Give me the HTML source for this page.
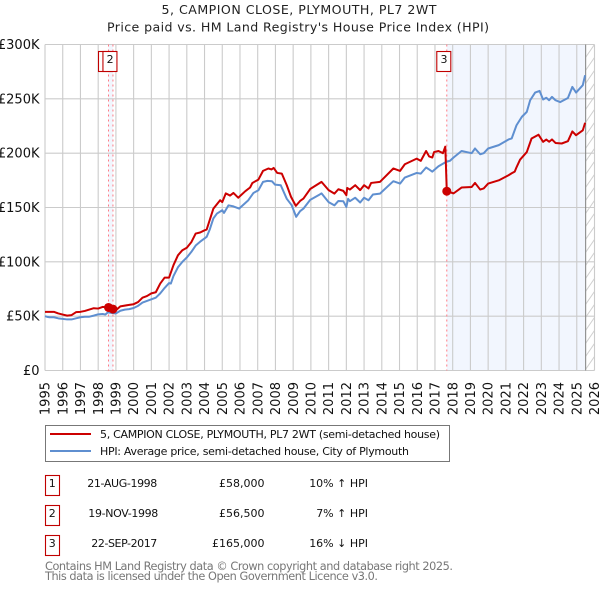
<!DOCTYPE html>
<html lang="en">
<head>
<meta charset="utf-8">
<title>5, CAMPION CLOSE, PLYMOUTH, PL7 2WT</title>
<style>
html,body{margin:0;padding:0;background:#fff;width:600px;height:590px;overflow:hidden}
svg{display:block}
text{font-family:"DejaVu Sans","Liberation Sans",sans-serif}
</style>
</head>
<body>
<svg id="chart" xmlns="http://www.w3.org/2000/svg" width="600" height="590" viewBox="0 0 600 590">
  <defs>
    <pattern id="hatch" width="9" height="13" patternUnits="userSpaceOnUse" x="585.5" y="44.5">
      <path d="M0 13 L9 0" stroke="#cfcfcf" stroke-width="1" fill="none"/>
    </pattern>
  </defs>
  <text x="299" y="14" font-size="12.6" text-anchor="middle" fill="#222" textLength="275">5, CAMPION CLOSE, PLYMOUTH, PL7 2WT</text>
  <text x="298" y="31.5" font-size="12.6" text-anchor="middle" fill="#222" textLength="382">Price paid vs. HM Land Registry's House Price Index (HPI)</text>
  <g id="shading"></g>
  <g id="grid"></g>
  <g id="sale-lines"></g>
  <g id="sale-boxes"></g>
  <g id="series"></g>
  <g id="y-labels"></g>
  <g id="x-labels"></g>

  <g>
    <rect x="45.5" y="425.5" width="404" height="36" fill="#fff" stroke="#777" stroke-width="1"/>
    <line x1="50" y1="434" x2="91" y2="434" stroke="#cc0000" stroke-width="2"/>
    <text x="100" y="438" font-size="11" fill="#111" textLength="340">5, CAMPION CLOSE, PLYMOUTH, PL7 2WT (semi-detached house)</text>
    <line x1="50" y1="451" x2="91" y2="451" stroke="#5f8fd0" stroke-width="2"/>
    <text x="100" y="455" font-size="11" fill="#111" textLength="309">HPI: Average price, semi-detached house, City of Plymouth</text>
  </g>

  <g font-size="11" fill="#111">
    <g>
      <rect x="45.5" y="475.5" width="14" height="20" fill="#fff" stroke="#c00000" stroke-width="1.1"/>
      <text x="52.3" y="487" text-anchor="middle">1</text>
      <text x="87.3" y="487" textLength="70">21-AUG-1998</text>
      <text x="264.5" y="487" text-anchor="end">£58,000</text>
      <text x="368" y="487" text-anchor="end">10% ↑ HPI</text>
    </g>
    <g>
      <rect x="45.5" y="505.5" width="14" height="20" fill="#fff" stroke="#c00000" stroke-width="1.1"/>
      <text x="52.3" y="517" text-anchor="middle">2</text>
      <text x="88.3" y="517" textLength="70">19-NOV-1998</text>
      <text x="264.5" y="517" text-anchor="end">£56,500</text>
      <text x="368" y="517" text-anchor="end">7% ↑ HPI</text>
    </g>
    <g>
      <rect x="45.5" y="535.5" width="14" height="20" fill="#fff" stroke="#c00000" stroke-width="1.1"/>
      <text x="52.3" y="547" text-anchor="middle">3</text>
      <text x="91.3" y="547" textLength="66">22-SEP-2017</text>
      <text x="264.5" y="547" text-anchor="end">£165,000</text>
      <text x="368" y="547" text-anchor="end">16% ↓ HPI</text>
    </g>
  </g>

  <text x="45" y="570" font-size="11.3" fill="#777" textLength="408">Contains HM Land Registry data © Crown copyright and database right 2025.</text>
  <text x="45" y="580" font-size="11.3" fill="#777" textLength="333">This data is licensed under the Open Government Licence v3.0.</text>
</svg>

<script>
var yearTicks = [1995,1996,1997,1998,1999,2000,2001,2002,2003,2004,2005,2006,2007,2008,2009,2010,2011,2012,2013,2014,2015,2016,2017,2018,2019,2020,2021,2022,2023,2024,2025,2026];
var valueTicks = [0,50,100,150,200,250,300];
var valueTickLabels = ['£0','£50K','£100K','£150K','£200K','£250K','£300K'];

var hpiDates = [1995,1995.1,1995.25,1995.5,1995.75,1996,1996.25,1996.5,1996.75,1997,1997.25,1997.5,1997.75,1998,1998.25,1998.4,1998.55,1998.75,1999,1999.25,1999.5,1999.75,2000,2000.25,2000.5,2000.75,2001,2001.25,2001.5,2001.75,2002,2002.1,2002.25,2002.5,2002.75,2003,2003.25,2003.5,2003.75,2004,2004.12,2004.3,2004.5,2004.7,2005,2005.1,2005.35,2005.63,2005.95,2006.47,2006.76,2007.04,2007.3,2007.55,2007.8,2007.98,2008.3,2008.64,2008.92,2009.17,2009.39,2009.58,2009.96,2010.5,2010.6,2011,2011.33,2011.55,2011.83,2012,2012.1,2012.2,2012.5,2012.78,2013,2013.25,2013.5,2013.9,2014.65,2015.03,2015.3,2015.97,2016.2,2016.5,2016.67,2016.85,2017.2,2017.63,2017.85,2018.05,2018.5,2019.07,2019.26,2019.55,2019.75,2020,2020.6,2021.15,2021.33,2021.6,2021.9,2022.18,2022.37,2022.65,2022.9,2023.1,2023.28,2023.44,2023.6,2023.8,2024.06,2024.5,2024.75,2024.96,2025.34,2025.47];
var hpiValues = [50,49.5,49,49,48,47.5,47,47,48,49,49.5,49.5,50.5,51.7,52,51.5,53.5,53,52.5,55,56,56.5,57.5,59.5,62.5,64,65.5,67,71,76,80.5,80,87,95,100,104,109,115,118.5,121.5,123,130,140,144.4,147.5,145,152,151,149,156.7,163.4,165.9,173.6,174.5,174.2,171,170.5,158,152,141.4,146.6,149,157,162,163,155,152,156,155.8,150.5,158,155.8,159,154.6,159,156.7,162,162.8,174.2,172,177.6,181.8,181.2,186.8,185,183,188,192,193,196,202,200,204.3,199,200,204.3,207.4,212.6,213.6,225.7,233.4,238,248.7,255.8,257.3,249.4,251,248.7,251.8,248.7,247,250.8,261,255.8,262.6,271.7];

var paidDates = [1995,1995.25,1995.5,1995.75,1996,1996.25,1996.5,1996.75,1997,1997.25,1997.75,1998,1998.25,1998.583,1998.833,1999,1999.25,1999.75,2000,2000.25,2000.5,2000.75,2001,2001.25,2001.5,2001.75,2002,2002.25,2002.5,2002.75,2003,2003.25,2003.5,2003.75,2004,2004.12,2004.5,2004.88,2005,2005.2,2005.44,2005.63,2005.9,2006.3,2006.57,2006.7,2007.04,2007.3,2007.6,2007.78,2007.9,2008.1,2008.36,2008.64,2008.88,2009.15,2009.39,2009.58,2009.96,2010.6,2011,2011.33,2011.55,2011.83,2012,2012.05,2012.2,2012.5,2012.78,2013,2013.25,2013.4,2013.9,2014.65,2015.03,2015.3,2015.97,2016.2,2016.5,2016.67,2016.85,2016.95,2017.2,2017.45,2017.583,2017.667,2018.05,2018.5,2019.07,2019.26,2019.55,2019.75,2020,2020.6,2021.15,2021.33,2021.5,2021.6,2021.8,2022.18,2022.45,2022.84,2023.1,2023.28,2023.44,2023.6,2023.8,2024.15,2024.5,2024.75,2024.96,2025.34,2025.47];
var paidValues = [54,54,54,52.5,51.5,50.5,51,53.7,54,54.8,57.3,57,58.5,58,56.5,55.5,59,60.4,61,63,67,68.5,71,72,80,85.5,85.5,97,106,110.7,113,118,126,127,129,129.7,149,156.7,155,163,161,163.4,159,165,168.4,172.6,175.7,183.7,185.9,185,186.4,181.8,181.2,170.5,159.8,151.5,156,158.2,167,173.6,166,162.8,166.8,165.3,161.3,168,166.5,170.5,166,170.5,167.5,172.6,173.6,185.9,183.7,189.8,195,192.9,202,197,196,201,202,200,206,165,163,168.4,168.9,172.6,166.5,167.5,172,175,179.7,181.5,183,187,194,201,213.5,217,210.4,212.5,210.5,212.6,209.4,208.9,211,220,216.5,221,228];

var saleDates = [1998.583,1998.833,2017.667];
var salePrices = [58,56.5,165];
var saleLabels = ['1','2','3'];
var dataEndDate = 2025.5;

var NS = 'http://www.w3.org/2000/svg';
var plotLeft = 45, plotRight = 594.5, plotTop = 44.5, plotBottom = 370.5;
function xScale(d){ return plotLeft + (d - yearTicks[0]) / (yearTicks[yearTicks.length-1] - yearTicks[0]) * (plotRight - plotLeft); }
function yScale(v){ return plotBottom - v / valueTicks[valueTicks.length-1] * (plotBottom - plotTop); }
function make(tag, parentId, attrs){
  var el = document.createElementNS(NS, tag);
  for (var k in attrs) el.setAttribute(k, attrs[k]);
  document.getElementById(parentId).appendChild(el);
  return el;
}
function linePath(dates, values){
  return dates.map(function(d,i){ return (i?'L':'M') + xScale(d).toFixed(2) + ' ' + yScale(values[i]).toFixed(2); }).join(' ');
}

var shade1 = make('rect','shading',{x:xScale(saleDates[0]),y:plotTop,width:xScale(saleDates[1])-xScale(saleDates[0]),height:plotBottom-plotTop,fill:'#f2f6fe'});


var shade2 = make('rect','shading',{x:xScale(saleDates[2]),y:plotTop,width:xScale(dataEndDate)-xScale(saleDates[2]),height:plotBottom-plotTop,fill:'#f2f6fe'});


var hatch = make('rect','shading',{x:xScale(dataEndDate),y:plotTop,width:plotRight-xScale(dataEndDate),height:plotBottom-plotTop,fill:'url(#hatch)'});



yearTicks.forEach(function(y){
  var gl = make('line','grid',{x1:xScale(y),x2:xScale(y),y1:plotTop,y2:plotBottom,stroke:'#cbcbcb','stroke-width':1.1});
  
  
  var xPos = xScale(y) + 4.6;
  var t = make('text','x-labels',{x:xPos,y:382,'font-size':13,fill:'#111','text-anchor':'end',transform:'rotate(-90 '+xPos+' 382)'});
  t.textContent = y;
  
  
});
valueTicks.forEach(function(v,i){
  var gl = make('line','grid',{x1:plotLeft,x2:plotRight,y1:yScale(v),y2:yScale(v),stroke:'#cbcbcb','stroke-width':1.1});
  
  
  var t = make('text','y-labels',{x:39.5,y:yScale(v)+4.5,'font-size':13,fill:'#111','text-anchor':'end'});
  t.textContent = valueTickLabels[i];
  
  
});
var endLine = make('line','grid',{x1:xScale(dataEndDate),x2:xScale(dataEndDate),y1:plotTop,y2:plotBottom,stroke:'#8a8a8a','stroke-width':1.1});



saleDates.forEach(function(d,i){
  var sl = make('line','sale-lines',{x1:xScale(d),x2:xScale(d),y1:plotTop,y2:plotBottom,stroke:'#ff7a84','stroke-width':1,'stroke-dasharray':'2 3'});
  
  
  var box = make('rect','sale-boxes',{x:xScale(d)-10,y:51.5,width:14,height:20,fill:'#fff',stroke:'#c00000','stroke-width':1.1});
  
  
  var t = make('text','sale-boxes',{x:xScale(d)-2.8,y:63,'font-size':11,fill:'#111','text-anchor':'middle'});
  t.textContent = saleLabels[i];
  
  
});

var hpiLine = make('path','series',{d:linePath(hpiDates,hpiValues),fill:'none',stroke:'#5f8fd0','stroke-width':2,'stroke-linejoin':'round'});


var paidLine = make('path','series',{d:linePath(paidDates,paidValues),fill:'none',stroke:'#cc0000','stroke-width':2,'stroke-linejoin':'round'});


saleDates.forEach(function(d,i){
  var c = make('circle','series',{cx:xScale(d),cy:yScale(salePrices[i]),r:4.5,fill:'#cc0000'});
  
  
});
</script>
</body>
</html>
